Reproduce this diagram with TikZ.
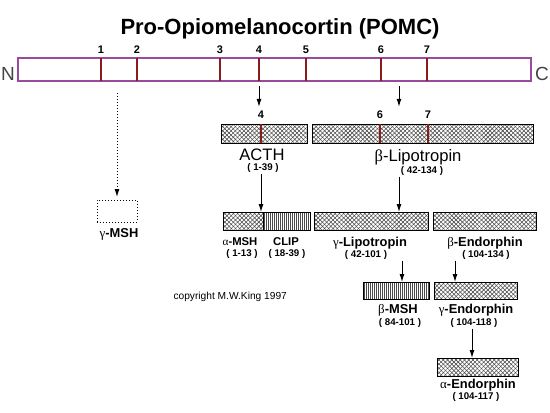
\documentclass[tikz,border=0pt]{standalone}
\usepackage{fontspec}
\setmainfont{Liberation Sans}
\newfontfamily\grkfont{Liberation Serif}
\usetikzlibrary{
    positioning,
    patterns.meta,
    arrows.meta
}
\definecolor{BarPurple}{HTML}{9A4A9C}
\definecolor{CutRed}{HTML}{8A1C1C}
\definecolor{HatchGray}{HTML}{4A4A4A}
\definecolor{TermGray}{HTML}{444444}

\newcommand{\grk}[1]{{\grkfont\mdseries #1}}

\tikzset{
    hatchbox/.style={
        draw=black,
        line width=0.8pt,
        preaction={pattern={Lines[angle=45,distance=3pt,line width=0.55pt]},pattern color=HatchGray},
        pattern={Lines[angle=-45,distance=3pt,line width=0.55pt]},
        pattern color=HatchGray,
        anchor=north west,
        inner sep=0pt,
        outer sep=0pt
    },
    stripebox/.style={
        draw=black,
        line width=0.8pt,
        pattern={Lines[angle=90,distance=2pt,line width=0.75pt]},
        pattern color=HatchGray,
        anchor=north west,
        inner sep=0pt,
        outer sep=0pt
    },
    cutline/.style={draw=CutRed, line width=1.6pt},
    cutnum/.style={anchor=base, font=\fontsize{11}{13}\selectfont\bfseries},
    pepname/.style={anchor=base, font=\fontsize{12.9}{15}\selectfont\bfseries},
    smallname/.style={anchor=base, font=\fontsize{11.3}{13}\selectfont\bfseries},
    bigname/.style={anchor=base, font=\fontsize{16.6}{19}\selectfont},
    rangelbl/.style={anchor=base, inner sep=1.5pt, font=\fontsize{9.7}{11}\selectfont\bfseries},
    arr/.style={-{Latex[length=8pt,width=5pt]}, line width=1pt}
}

\begin{document}
\begin{tikzpicture}[x=1pt, y=-1pt]

    \useasboundingbox (0,0) rectangle (550,413);

    \node[anchor=base, font=\fontsize{22}{26}\selectfont\bfseries] (title) at (280,34) {Pro-Opiomelanocortin (POMC)};

    % precursor
    \node[
        draw=BarPurple,
        line width=1.5pt,
        anchor=north west,
        minimum width=513pt,
        minimum height=23pt,
        inner sep=0pt,
        outer sep=0pt
    ] (mainBar) at (18,58) {};
    \foreach \x/\n in {101/1,137/2,220/3,259/4,306/5,381/6,427/7}{
        \draw[cutline] (\x,58) -- (\x,81);
        \node[cutnum] (cut\n) at (\x,53) {\n};
    }
    \node[anchor=base, text=TermGray, font=\fontsize{19}{22}\selectfont] (nTerm) at (8,80) {N};
    \node[anchor=base, text=TermGray, font=\fontsize{19}{22}\selectfont] (cTerm) at (542,80) {C};

    \coordinate (splitA) at (259,86);
    \coordinate (splitB) at (399,86);
    \coordinate (splitG) at (117,93);

    % first cleavage
    \node[hatchbox, minimum width=86pt, minimum height=19pt] (acthBox) at (221,124) {};
    \node[hatchbox, minimum width=221pt, minimum height=19pt] (blipoBox) at (312,124) {};
    \draw[cutline] (261,124) -- (261,143);
    \draw[cutline] (380,124) -- (380,143);
    \draw[cutline] (428,124) -- (428,143);
    \node[cutnum] (acthCut) at (261,118) {4};
    \node[cutnum] (blipoCut6) at (380,118) {6};
    \node[cutnum] (blipoCut7) at (428,118) {7};

    \node[bigname] (acthLbl) at (262,160) {ACTH};
    \node[rangelbl] (acthRange) at (263,170) {( 1-39 )};
    \node[bigname] (blipoLbl) at (418,161) {\grk{β}-Lipotropin};
    \node[rangelbl] (blipoRange) at (422,173) {( 42-134 )};

    \draw[arr] (splitA) -- (splitA |- acthCut.north);
    \draw[arr] (splitB) -- (splitB |- blipoCut6.north);

    % gamma-MSH (dotted)
    \node[
        draw,
        dotted,
        line width=1pt,
        anchor=north west,
        minimum width=40pt,
        minimum height=22pt,
        inner sep=0pt,
        outer sep=0pt
    ] (gmshBox) at (97,200) {};
    \node[pepname] (gmshLbl) at (119,237) {\grk{γ}-MSH};
    \draw[arr, dotted] (splitG) -- ([yshift=3pt]gmshBox.north -| splitG);

    % second cleavage
    \node[hatchbox, minimum width=40pt, minimum height=18pt] (amshBox) at (223,212) {};
    \node[stripebox, minimum width=47pt, minimum height=18pt] (clipBox) at (263,212) {};
    \node[hatchbox, minimum width=114pt, minimum height=18pt] (glipoBox) at (314,212) {};
    \node[hatchbox, minimum width=103pt, minimum height=18pt] (bendBox) at (433,212) {};

    \node[smallname] (amshLbl) at (240,245) {\grk{α}-MSH};
    \node[rangelbl] (amshRange) at (242,256) {( 1-13 )};
    \node[smallname] (clipLbl) at (286,245) {CLIP};
    \node[rangelbl] (clipRange) at (287,256) {( 18-39 )};
    \node[pepname] (glipoLbl) at (370,246) {\grk{γ}-Lipotropin};
    \node[rangelbl] (glipoRange) at (366,257) {( 42-101 )};
    \node[pepname] (bendLbl) at (485,246) {\grk{β}-Endorphin};
    \node[rangelbl] (bendRange) at (486,257) {( 104-134 )};

    \draw[arr] (acthRange.south -| acthCut) -- (acthCut |- amshBox.north);
    \draw[arr] (splitB |- blipoRange.south) -- (splitB |- glipoBox.north);

    % third cleavage
    \node[stripebox, minimum width=66pt, minimum height=17pt] (bmshBox) at (363,282) {};
    \node[hatchbox, minimum width=83pt, minimum height=17pt] (gendBox) at (434,282) {};
    \node[pepname] (bmshLbl) at (398,313) {\grk{β}-MSH};
    \node[rangelbl] (bmshRange) at (400,325) {( 84-101 )};
    \node[pepname] (gendLbl) at (476,313) {\grk{γ}-Endorphin};
    \node[rangelbl] (gendRange) at (474,325) {( 104-118 )};

    \draw[arr] (402,0 |- glipoRange.south) -- (402,0 |- bmshBox.north);
    \draw[arr] (455,0 |- bendRange.south) -- (455,0 |- gendBox.north);

    % last step
    \node[hatchbox, minimum width=81pt, minimum height=18pt] (aendBox) at (437,358) {};
    \node[pepname] (aendLbl) at (478,388) {\grk{α}-Endorphin};
    \node[rangelbl] (aendRange) at (476,399) {( 104-117 )};

    \draw[arr] (472,0 |- gendRange.south) -- (472,0 |- aendBox.north);

    \node[anchor=base west, font=\fontsize{10.2}{12}\selectfont] (copyNote) at (170,299) {copyright M.W.King 1997};

\end{tikzpicture}
\end{document}
